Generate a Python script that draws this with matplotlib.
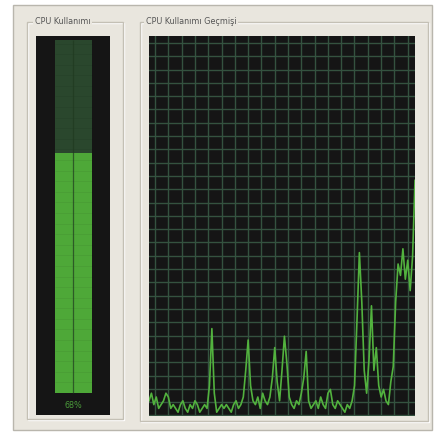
import matplotlib
matplotlib.use("Agg")
import matplotlib.pyplot as plt
from matplotlib.patches import Rectangle
import numpy as np

# ---- data ----
usage_now = 68
usage_label = "68%"
history = [4, 6, 3, 5, 2,
           3, 4, 6, 5, 2,
           3, 2, 1, 3, 4, 2, 1, 3, 2, 4, 3, 1, 2, 3, 2,
           8, 23, 6,
           1, 2, 3, 2, 3, 2, 1, 3, 4, 2, 3, 5,
           12, 20, 8,
           4, 3, 5, 2, 6, 4, 3, 5,
           10, 18, 9, 4,
           12, 21, 14, 5,
           3, 2, 4, 3, 6,
           10, 17, 4,
           2, 3, 4, 2, 5, 3, 2, 6, 7, 3, 2, 4, 3, 2, 1, 3, 2, 4,
           8, 25, 43, 30, 12, 6,
           15, 29, 12, 18, 8, 5,
           7, 4, 3, 9,
           13, 30, 40, 37, 44, 36, 41, 33, 42, 62]
title_left = "CPU Kullanımı"
title_right = "CPU Kullanımı Geçmişi"

W, H = 438, 433
fig = plt.figure(figsize=(W / 100, H / 100), dpi=100, facecolor="white")

def fx(x):
    return x / W

def fy(y):
    return 1 - y / H

def rect(x0, y0, x1, y1, z=0.5, **kw):
    r = Rectangle((fx(x0), fy(y1)), fx(x1) - fx(x0), fy(y0) - fy(y1),
                  transform=fig.transFigure, zorder=z, **kw)
    fig.patches.append(r)

BEIGE = "#e9e6de"
# outer panel
rect(13, 5, 432, 430, z=0.1, facecolor=BEIGE, edgecolor="#b9b6ad", lw=1)

# group boxes (etched)
for (x0, y0, x1, y1) in [(27, 22, 123, 419), (140, 22, 428, 421)]:
    rect(x0 + 1, y0 + 1, x1 + 1, y1 + 1, z=0.3, facecolor="none", edgecolor="white", lw=1)
    rect(x0, y0, x1, y1, z=0.4, facecolor="none", edgecolor="#c4c0b5", lw=1)

for (tx, t) in [(35, title_left), (146, title_right)]:
    fig.text(fx(tx), fy(22), t, fontsize=5.8, color="#555555",
             va="center", ha="left",
             bbox=dict(facecolor=BEIGE, edgecolor="none", pad=1.2))

# ---- left meter ----
axl = fig.add_axes([fx(36), fy(415), fx(110) - fx(36), fy(36) - fy(415)])
axl.set_zorder(2)
axl.set_facecolor("#151515")
axl.set_xlim(-1, 1)
axl.set_ylim(-22 / 3.53, 100 + 4 / 3.53)
axl.bar([0], [100], width=1.0, color="#2a472d", zorder=1)
axl.bar([0], [usage_now], width=1.0, color="#4ea838", zorder=2)
for yv in np.arange(3, 100, 3):
    axl.hlines(yv, -0.5, 0.5, color="#000000", alpha=0.06, lw=0.6, zorder=3)
axl.vlines(0, 0, 100, color="#1f3a1f", lw=0.9, alpha=0.7, zorder=3)
axl.text(0, -3.4, usage_label, color="#4a9a3a", fontsize=5.8, ha="center", va="center")
axl.set_xticks([])
axl.set_yticks([])
for s in axl.spines.values():
    s.set_visible(False)

# ---- right history ----
axr = fig.add_axes([fx(149), fy(416), fx(415) - fx(149), fy(36) - fy(416)])
axr.set_zorder(2)
axr.set_facecolor("#151515")
n = len(history)
axr.set_xlim(0, n - 1)
axr.set_ylim(0, 100)
xu = (n - 1) / 266.0
gcol = "#34523f"
for gx in np.arange(6 * xu, n - 1, 13.3 * xu):
    axr.axvline(gx, color=gcol, lw=1.0, zorder=1)
yu = 100 / 380.0
for gy in np.arange(100 - 7 * yu, 0, -13.3 * yu):
    axr.axhline(gy, color=gcol, lw=1.0, zorder=1)
axr.plot(np.arange(n), history, color="#52b23e", lw=1.2, zorder=3)
axr.set_xticks([])
axr.set_yticks([])
for s in axr.spines.values():
    s.set_visible(False)

fig.savefig("out.png", dpi=100, facecolor="white")
